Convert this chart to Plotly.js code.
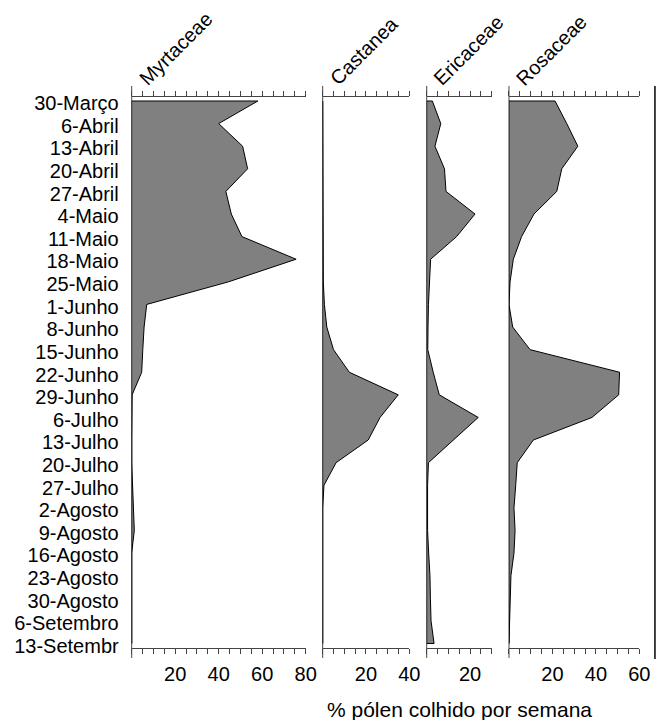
<!DOCTYPE html>
<html>
<head>
<meta charset="utf-8">
<script src="https://cdn.plot.ly/plotly-3.0.1.min.js"></script>
<style>html,body{margin:0;padding:0;background:#fff;}#chart{width:656px;height:720px;}</style>
</head>
<body>
<div id="chart"></div>
<script>
const categories = ["30-Março","6-Abril","13-Abril","20-Abril","27-Abril","4-Maio","11-Maio","18-Maio","25-Maio","1-Junho","8-Junho","15-Junho","22-Junho","29-Junho","6-Julho","13-Julho","20-Julho","27-Julho","2-Agosto","9-Agosto","16-Agosto","23-Agosto","30-Agosto","6-Setembro","13-Setembr"];
const taxa = ["Myrtaceae","Castanea","Ericaceae","Rosaceae"];
const myrtaceae = [58, 40, 51, 53.3, 43.3, 45.8, 50.7, 75.6, 44.5, 6.9, 5.7, 5.1, 4.6, 0.2, 0, 0, 0, 0.3, 0.8, 1.2, 0, 0, 0, 0, 0];
const castanea  = [0, 0, 0, 0, 0, 0, 0, 0, 0.3, 0.8, 1.9, 5, 12.3, 34.9, 26.5, 21, 6.2, 0.6, 0, 0, 0, 0, 0, 0, 0];
const ericaceae = [2.6, 6.5, 3.8, 8.2, 8.9, 22.3, 13.8, 1.8, 1.2, 0.8, 0.6, 0.5, 3, 5.8, 23.8, 12.3, 0.8, 0.4, 0.4, 0.4, 0.9, 1.5, 1.7, 2, 3.4];
const rosaceae  = [21.2, 26.6, 31.7, 24.3, 22, 11.5, 5.8, 2, 0.5, 0, 1.7, 9.7, 50.9, 50.5, 38.2, 11.2, 3.8, 3.1, 2.3, 2.8, 2.3, 0.9, 0.6, 0.3, 0];
const ranges = [80, 40, 30, 60];
const tickStep = 5;
const labelStep = 20;
const axisTitle = "% pólen colhido por semana";

const series = [myrtaceae, castanea, ericaceae, rosaceae];
const idx = categories.map((c,i)=>i);
const domains = [[0.00323,0.3340],[0.3663,0.5310],[0.5641,0.6876],[0.7205,0.9683]];
const FONT = "Liberation Sans, Arial, sans-serif";
const AXC = '#444';

const traces = [];
series.forEach((vals, k) => {
  const xs = [0].concat(vals, [0, 0]);
  const ys = [0].concat(idx, [idx[idx.length-1], 0]);
  traces.push({
    type: 'scatter', mode: 'lines',
    x: xs, y: ys,
    xaxis: k === 0 ? 'x' : 'x' + (k+1), yaxis: 'y',
    fill: 'toself', fillcolor: '#808080',
    line: {color: '#000', width: 1},
    hoverinfo: 'skip', showlegend: false
  });
});

const layout = {
  width: 656, height: 720,
  margin: {l: 130, r: 0, t: 97, b: 72},
  paper_bgcolor: '#fff', plot_bgcolor: 'rgba(0,0,0,0)',
  showlegend: false,
  font: {family: FONT, color: '#000', size: 20},
  yaxis: {
    anchor: 'x', range: [24.2, -0.177],
    tickmode: 'array', tickvals: idx.map(i => i + 0.1), ticktext: categories,
    ticks: 'outside', ticklen: 8, tickcolor: 'rgba(0,0,0,0)',
    showline: false, showgrid: false, zeroline: false,
    tickfont: {size: 20, family: FONT, color: '#000'}
  },
  shapes: [], annotations: []
};

ranges.forEach((r, k) => {
  const name = k === 0 ? 'xaxis' : 'xaxis' + (k+1);
  const tv = [], tt = [];
  for (let v = 0; v <= r; v += tickStep) {
    tv.push(v);
    tt.push(v > 0 && v % labelStep === 0 ? String(v) : '');
  }
  layout[name] = {
    domain: domains[k], anchor: 'y', range: [0, r],
    tickmode: 'array', tickvals: tv, ticktext: tt,
    ticks: 'outside', ticklen: 5, tickcolor: AXC, tickwidth: 1,
    ticklabelstandoff: 3,
    showline: true, linecolor: AXC, linewidth: 1,
    mirror: 'allticks',
    showgrid: false, zeroline: false,
    tickfont: {size: 20, family: FONT, color: '#000'}
  };
  layout.shapes.push({
    type: 'line', xref: 'paper', yref: 'paper', layer: 'below',
    x0: domains[k][0], x1: domains[k][0], y0: 1.02, y1: -0.018,
    line: {color: '#444', width: 1}
  });
  layout.annotations.push({
    text: taxa[k], xref: 'paper', yref: 'paper',
    x: domains[k][0], y: 1.009, xanchor: 'left', yanchor: 'bottom',
    textangle: -45, showarrow: false,
    font: {size: 20, family: FONT, color: '#000'}
  });
});

layout.shapes.push({
  type: 'line', xref: 'paper', yref: 'paper',
  x0: 0.998, x1: 0.998, y0: 1.02, y1: -0.02,
  line: {color: '#000', width: 1.5}
});
layout.annotations.push({
  text: axisTitle, xref: 'paper', yref: 'paper',
  x: 0.6255, y: -0.1125, xanchor: 'center', yanchor: 'middle',
  showarrow: false, font: {size: 21, family: FONT, color: '#000'}
});

Plotly.newPlot('chart', traces, layout, {staticPlot: true, displayModeBar: false});
</script>
</body>
</html>
